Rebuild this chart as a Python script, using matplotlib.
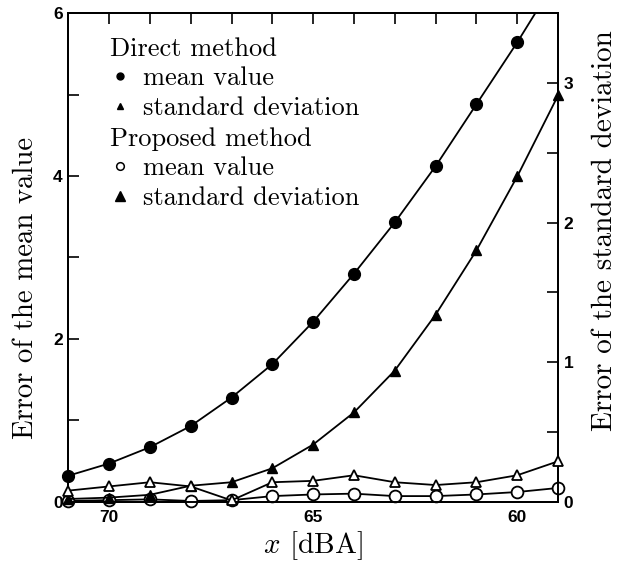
import numpy as np
import matplotlib
matplotlib.use("Agg")
import matplotlib.pyplot as plt
from matplotlib.lines import Line2D
from matplotlib.ticker import MultipleLocator

plt.rcParams['font.family'] = ['cmr10', 'DejaVu Serif']
plt.rcParams['mathtext.fontset'] = 'cm'
plt.rcParams['axes.formatter.use_mathtext'] = True

# x in dBA (axis runs from 71 down to 59)
x = np.array([71, 70, 69, 68, 67, 66, 65, 64, 63, 62, 61, 60, 59])

# error of the mean value (left axis)
direct_mean = np.array([0.32, 0.47, 0.67, 0.93, 1.28, 1.69, 2.21, 2.80, 3.43, 4.12, 4.88, 5.64, 6.45])
proposed_mean = np.array([0.01, 0.02, 0.03, 0.01, 0.02, 0.07, 0.09, 0.10, 0.07, 0.07, 0.09, 0.12, 0.17])

# error of the standard deviation (right axis)
direct_std = np.array([0.02, 0.03, 0.05, 0.115, 0.14, 0.24, 0.41, 0.64, 0.94, 1.34, 1.80, 2.33, 2.91])
proposed_std = np.array([0.08, 0.11, 0.14, 0.11, 0.01, 0.14, 0.15, 0.19, 0.14, 0.12, 0.14, 0.19, 0.29])

fig = plt.figure(figsize=(6.32, 5.67), dpi=100)
ax = fig.add_axes([0.108, 0.115, 0.775, 0.862])
ax2 = ax.twinx()

lw = 1.3
# direct mean: line clipped at top, markers only where inside
ax.plot(x, direct_mean, color='black', lw=lw, zorder=3)
inside = direct_mean <= 6
ax.plot(x[inside], direct_mean[inside], ls='none', marker='o', ms=8.5,
        color='black', clip_on=False, zorder=4)
ax.plot(x, proposed_mean, color='black', lw=lw, marker='o', ms=8.5,
        mfc='white', mec='black', mew=1.3, clip_on=False, zorder=4)

ax2.plot(x, direct_std, color='black', lw=lw, marker='^', ms=6.5,
         clip_on=False, zorder=3)
ax2.plot(x, proposed_std, color='black', lw=lw, marker='^', ms=7.5,
         mfc='white', mec='black', mew=1.3, clip_on=False, zorder=4)

ax.xaxis.set_major_locator(MultipleLocator(5))
ax.xaxis.set_minor_locator(MultipleLocator(1))
ax.yaxis.set_major_locator(MultipleLocator(2))
ax.yaxis.set_minor_locator(MultipleLocator(1))
ax2.yaxis.set_major_locator(MultipleLocator(1))
ax2.yaxis.set_minor_locator(MultipleLocator(0.5))

tickfont = dict(family='Liberation Sans', weight='bold', size=12.5)
for a in (ax, ax2):
    for s in a.spines.values():
        s.set_linewidth(1.4)
ax.tick_params(axis='x', which='both', direction='in', top=True, bottom=False,
               length=8, width=1.2, pad=6)
ax.tick_params(axis='y', which='both', direction='in', length=8, width=1.2, pad=4)
ax2.tick_params(axis='y', which='both', direction='in', length=8, width=1.2, pad=4)
ax.set_xticks([70, 65, 60], ['70', '65', '60'], fontdict=tickfont)
ax.set_yticks([0, 2, 4, 6], ['0', '2', '4', '6'], fontdict=tickfont)
ax2.set_yticks([0, 1, 2, 3], ['0', '1', '2', '3'], fontdict=tickfont)
ax.set_xlim(71, 59)
ax.set_ylim(0, 6)
ax2.set_ylim(0, 3.5)

ax.set_xlabel(r'$x$ [dBA]', fontsize=21, labelpad=3)
ax.set_ylabel('Error of the mean value', fontsize=20.7)
ax.yaxis.set_label_coords(-0.059, 0.438)
ax2.set_ylabel('Error of the standard deviation', fontsize=21)
ax2.yaxis.set_label_coords(1.068, 0.554)

# legends
h1 = [Line2D([], [], ls='none', marker='o', ms=5, color='black'),
      Line2D([], [], ls='none', marker='^', ms=5, color='black')]
h2 = [Line2D([], [], ls='none', marker='o', ms=5.5, mfc='white', mec='black', mew=1.1),
      Line2D([], [], ls='none', marker='^', ms=6.5, color='black')]
common = dict(loc='upper left', frameon=False, fontsize=19, title_fontsize=19,
              alignment='left', handlelength=0.8, handletextpad=0.45,
              labelspacing=0.24, borderpad=0, borderaxespad=0)
leg1 = ax2.legend(h1, ['mean value', 'standard deviation'], title='Direct method',
                  bbox_to_anchor=(0.085, 0.951), **common)
leg1._legend_box.sep = 4
ax2.add_artist(leg1)
leg2 = ax2.legend(h2, ['mean value', 'standard deviation'], title='Proposed method',
                  bbox_to_anchor=(0.085, 0.767), **common)
leg2._legend_box.sep = 4

fig.savefig('out.png', dpi=100)
